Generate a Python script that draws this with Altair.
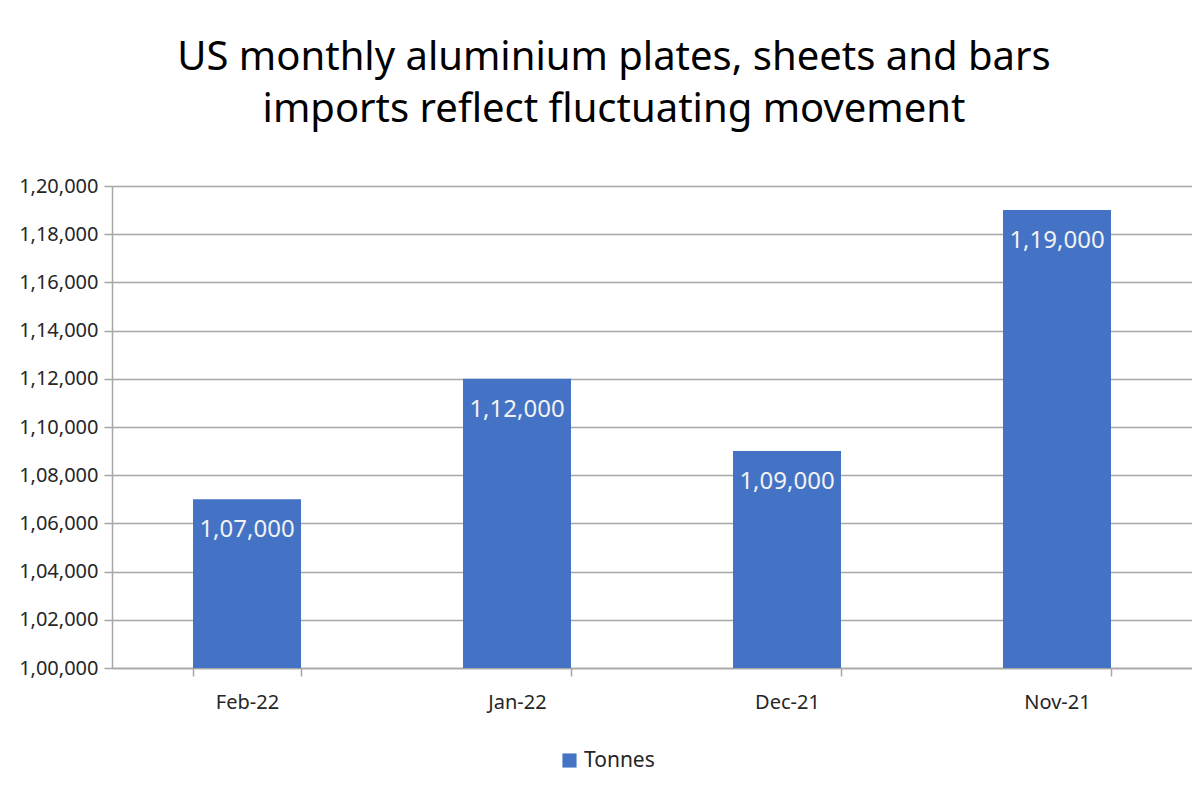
import altair as alt
import pandas as pd

# data
months = ["Feb-22", "Jan-22", "Dec-21", "Nov-21"]
tonnes = [107000, 112000, 109000, 119000]
bar_labels = ["1,07,000", "1,12,000", "1,09,000", "1,19,000"]

tick_values = [100000, 102000, 104000, 106000, 108000, 110000,
               112000, 114000, 116000, 118000, 120000]
tick_labels = ["1,00,000", "1,02,000", "1,04,000", "1,06,000", "1,08,000", "1,10,000",
               "1,12,000", "1,14,000", "1,16,000", "1,18,000", "1,20,000"]

df = pd.DataFrame({
    "month": months,
    "tonnes": tonnes,
    "label": bar_labels,
    "series": ["Tonnes"] * len(months),
})

FONT = "Noto Sans"
GREY = "#a6a6a6"

label_expr = "{}[indexof({}, datum.value)]".format(
    "[" + ",".join("'%s'" % t for t in tick_labels) + "]",
    "[" + ",".join(str(v) for v in tick_values) + "]",
)

base = alt.Chart(df).encode(
    x=alt.X(
        "month:N",
        sort=months,
        title=None,
        scale=alt.Scale(paddingInner=0.6, paddingOuter=0.3),
        axis=alt.Axis(
            labelAngle=0,
            tickBand="extent",
            tickSize=8,
            tickColor=GREY,
            tickWidth=1.5,
            domainColor=GREY,
            domainWidth=1.5,
            labelFont=FONT,
            labelFontSize=20,
            labelColor="#262626",
            labelPadding=16,
            grid=False,
        ),
    ),
)

bars = base.mark_bar(color="#4472C4", clip=True).encode(
    y=alt.Y(
        "tonnes:Q",
        title=None,
        scale=alt.Scale(domain=[100000, 120000], nice=False, zero=False),
        axis=alt.Axis(
            values=tick_values,
            labelExpr=label_expr,
            tickSize=8,
            tickColor=GREY,
            tickWidth=1.5,
            domainColor=GREY,
            domainWidth=1.5,
            gridColor=GREY,
            gridWidth=1.5,
            labelFont=FONT,
            labelFontSize=20,
            labelColor="#262626",
            labelPadding=6,
        ),
    ),
    color=alt.Color(
        "series:N",
        scale=alt.Scale(range=["#4472C4"]),
        legend=alt.Legend(
            title=None,
            orient="none",
            legendX=447,
            legendY=564,
            symbolType="square",
            symbolSize=200,
            symbolStrokeWidth=0,
            labelFont=FONT,
            labelFontSize=21,
            labelColor="#262626",
        ),
    ),
)

texts = base.mark_text(
    baseline="middle",
    dy=31,
    font=FONT,
    fontSize=24,
    color="#f2f2f2",
).encode(
    y=alt.Y("tonnes:Q"),
    text="label:N",
)

chart = (
    alt.layer(bars, texts)
    .properties(
        width=1080,
        height=482,
        autosize=alt.AutoSizeParams(type="none"),
        padding={"left": 104, "top": 178, "right": 0, "bottom": 120},
        title=alt.Title(
            ["US monthly aluminium plates, sheets and bars",
             "imports reflect fluctuating movement"],
            font=FONT,
            fontSize=40,
            fontWeight="normal",
            color="#000000",
            anchor="middle",
            dx=-38,
            lineHeight=52,
            offset=46,
        ),
    )
    .configure_view(stroke=None)
)

chart.save("out.html", embed_options={"renderer": "svg", "actions": False})
